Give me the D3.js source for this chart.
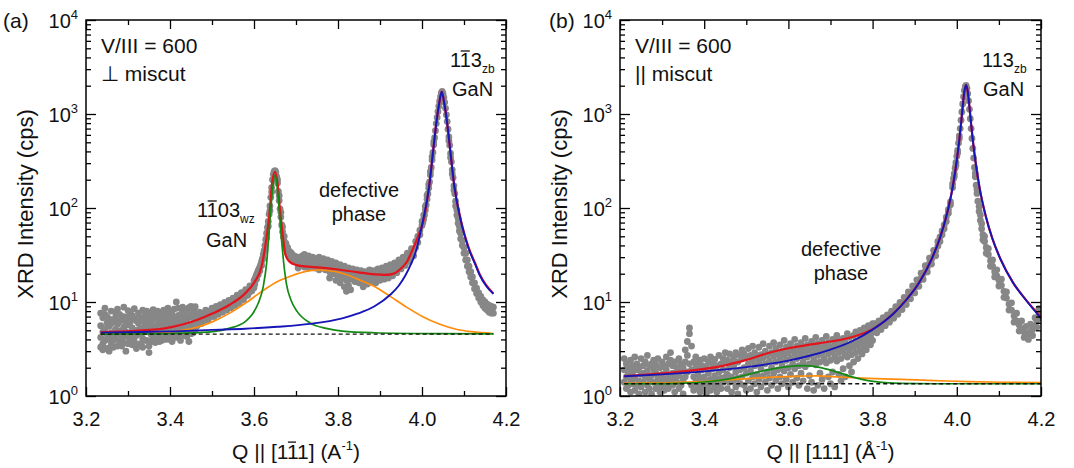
<!DOCTYPE html>
<head>
  <meta charset="utf-8">
  <script src="https://d3js.org/d3.v7.min.js"></script>
  <style>
    body { margin: 0; background: #fff; }
    svg text { font-family: Arial, "Liberation Sans", sans-serif; fill: #111; }
    .frame { fill: none; stroke: #000; stroke-width: 1.5; }
    .axis path { display: none; }
    .axis line { stroke: #000; stroke-width: 1.3; }
    .axis text { font-size: 20px; font-family: Arial, "Liberation Sans", sans-serif; fill: #111; }
    .ylab { font-size: 20px; }
    .title { font-size: 21px; }
    .ytitle { font-size: 22px; }
    .fit { fill: none; }
    .bar { stroke: #111; stroke-width: 1.3; }
  </style>
</head>
<body>
<svg id="chart" width="1074" height="468"></svg>

<script>
// ---- axis ticks ----
var xTickMajor = [3.2, 3.4, 3.6, 3.8, 4.0, 4.2];
var xTickMinor = [3.3, 3.5, 3.7, 3.9, 4.1];
var yDecades = [1, 10, 100, 1000, 10000];
var yExponents = ["0", "1", "2", "3", "4"];

// ---- (a) perpendicular miscut : measured scan [Q, I, I, ...] ----
var leftScan = [
  [3.235,5.6,4.2,3.3,7.6],[3.240,6.8,4.8,3.6,3.1],[3.245,5.2,3.9,7.4,8.6],[3.250,6.0,4.5,3.2,7.0],[3.255,5.5,4.0,6.6,3.0],
  [3.260,4.7,3.5,5.9,8.0],[3.265,6.3,4.4,3.9,3.3],[3.270,5.1,4.1,7.8,6.8],[3.275,5.8,4.6,3.4,8.4],[3.280,4.9,3.8,6.2,7.4],
  [3.285,6.5,5.0,4.2,3.4],[3.290,5.4,3.7,7.0,8.8],[3.295,4.8,4.3,6.0,3.0],[3.300,5.7,3.6,6.9,8.1],[3.305,6.1,4.7,3.9,7.6],
  [3.310,5.3,4.2,7.2,3.5],[3.315,6.6,4.9,3.8,8.5],[3.320,5.0,4.4,6.3,3.2],[3.325,5.9,3.5,7.6,6.9],[3.330,5.2,4.6,6.7,3.6],
  [3.335,6.4,4.1,3.3,8.2],[3.340,5.6,4.8,7.1,3.9],[3.345,6.0,3.9,5.3,8.0],[3.350,5.4,2.9,6.8,3.4],[3.355,6.2,4.5,7.5,3.8],
  [3.360,5.5,4.0,6.6,8.3],[3.365,6.9,4.7,5.2,3.7],[3.370,5.8,4.3,7.3,8.0],[3.375,6.3,5.0,3.8,7.8],[3.380,5.7,4.6,7.0,3.9],
  [3.385,6.6,4.2,5.4,8.2],[3.390,6.1,4.8,7.7,4.0],[3.395,5.5,4.4,6.8,8.6],[3.400,6.4,5.1,4.0,7.6],[3.405,5.9,4.6,7.4,3.8],
  [3.410,6.7,5.2,4.5,8.4],[3.415,6.2,4.9,10.0,4.2],[3.420,5.8,4.3,7.2,8.6],[3.425,6.8,5.4,4.7,3.9],[3.430,6.3,4.8,7.9,8.8],
  [3.435,7.0,5.5,4.4,8.3],[3.440,6.5,5.0,8.1,4.3],[3.445,6.9,5.3,3.8,8.7],[3.450,7.3,5.6,4.6,9.0],[3.455,6.8,5.9,8.3,4.7],
  [3.460,7.5,6.1,5.0,8.9],
  [3.465,7.2,5.6],[3.470,6.5,7.8],[3.475,7.0,5.9],[3.480,7.6,6.3],[3.485,6.8,8.2],[3.490,7.4,6.4],
  [3.495,8.0,6.9],[3.500,7.3,8.6],[3.505,8.3,7.0],[3.510,7.7,9.0],[3.515,8.5,7.4],[3.520,8.1,9.4],
  [3.525,8.9,7.8],[3.530,8.4,9.9],[3.535,9.4,8.2],[3.540,8.8,10.4],[3.545,9.9,8.7],[3.550,9.5,11.0],
  [3.555,10.5,9.2],[3.560,10.0,11.8],[3.565,11.2,9.8],[3.570,10.8,12.6],[3.575,12.0,10.6],[3.580,11.6,13.5],
  [3.585,13.0,11.8],[3.590,12.8,14.8],[3.595,14.5,13.2],[3.600,14.2,16.8],
  [3.602,17.5,15.5],[3.604,18.5],[3.606,19.5,17.5],[3.608,20.5],[3.610,21.5,19.5],[3.612,22.5],
  [3.614,23.5,21.5],[3.616,25],[3.618,27,24.5],[3.620,29],[3.622,32,29],[3.624,35],[3.626,40,36],
  [3.628,46],[3.630,54,48],[3.632,62],[3.634,72,64],[3.636,86],[3.638,105,94],[3.640,130],
  [3.642,165,148],[3.644,200],[3.646,228],[3.648,245],[3.650,250],[3.652,240],[3.654,215],
  [3.656,185,200],[3.658,150],[3.660,120,135],[3.662,98],[3.664,80,90],[3.666,66],[3.668,56,63],
  [3.670,49],[3.672,44,50],[3.674,40],[3.676,37,42],[3.678,35],[3.680,33.5,38],[3.683,32,35],
  [3.686,31,34],[3.689,30,33],[3.692,29,31.5],[3.695,28.5,31],[3.698,28,30.5],[3.700,27.5,30],
  [3.705,30,26,23],[3.710,28,24.5],[3.715,31,26],[3.720,27,23.5,32],[3.725,29,25],[3.730,26.5,31,23],
  [3.735,28,24],[3.740,25.5,30],[3.745,27.5,23],[3.750,29,24.5],[3.755,26,22,30],[3.760,27.5,23.5],
  [3.765,25,29],[3.770,26.5,22],[3.775,24,28],[3.780,25.5,21,18],[3.785,23,27],[3.790,24.5,20],
  [3.795,22,26,17],[3.800,23.5,19],[3.805,21,25,16],[3.810,22.5,18],[3.815,20,24,14.5],
  [3.820,21.5,17,13],[3.825,19.5,23,15],[3.830,21,17.5,13.5],[3.835,19,22.5],[3.840,20.5,16.5],
  [3.845,18.5,22],[3.850,20,16],[3.855,18,21.5],[3.860,19.5,16.5,14.5],[3.865,17.5,21],[3.870,19,15.5],
  [3.875,18,22],[3.880,19.5,16.5],[3.885,17.5,21.5],[3.890,19,16],[3.895,18,22.5],[3.900,20,17],
  [3.905,18.5,23],[3.910,20.5,17.5],[3.915,19,24],[3.920,21,18],[3.925,20,25],[3.930,22.5,19],
  [3.935,21.5,26],[3.940,24,20.5],[3.945,23,28],[3.950,26,22.5],[3.955,25.5,30],[3.960,28,24.5],
  [3.965,28,33],[3.970,31,27],[3.975,32,37],[3.980,36,31],[3.985,38,44],[3.990,43,50],[3.995,52,58],
  [4.000,65,72],[4.002,70],[4.004,76,84],[4.006,84],[4.008,95,104],[4.010,108],[4.012,124,136],
  [4.014,142],[4.016,163,178],[4.018,190],[4.020,225,245],[4.022,270],[4.024,325,350],[4.026,390],
  [4.028,470,505],[4.030,560],[4.032,665],[4.034,790],[4.036,920],[4.038,1060],[4.040,1210],
  [4.042,1370],[4.044,1530],[4.046,1680],[4.048,1740],[4.050,1650],[4.052,1500],[4.054,1330],
  [4.056,1150],[4.058,980],[4.060,830],[4.062,690],[4.064,570,520],[4.066,465],[4.068,380,345],
  [4.070,310],[4.072,255,230],[4.074,210],[4.076,172,155],[4.078,142],[4.080,118,105],[4.083,95,84],
  [4.086,78,69],[4.089,64,57],[4.092,54,47],[4.096,45,40],[4.100,38,33],[4.104,33,28],[4.108,28,24],
  [4.112,24,21],[4.116,21,18.5],[4.120,18.5,16],[4.125,16,13.8],[4.130,14,12.3],[4.135,12.5,11],
  [4.140,11.5,10],[4.145,10.5,9.2],[4.150,10,8.6],[4.155,9.5,8.2],[4.160,9.2,7.8],[4.165,9.0,7.6],
  [4.170,8.8,7.6]
];

var leftSum = [
  [3.235,4.79],[3.310,4.91],[3.387,5.24],[3.425,5.69],[3.464,6.43],[3.502,7.57],[3.541,9.3],
  [3.579,12.35],[3.602,16.5],[3.618,23.8],[3.629,45.6],[3.637,88],[3.643,183],[3.650,243],
  [3.656,183],[3.662,95],[3.670,45.6],[3.675,31.7],[3.687,26.3],[3.710,24.2],[3.748,23.4],
  [3.795,22.3],[3.848,20.7],[3.887,19.7],[3.910,19.4],[3.929,19.8],[3.948,22.3],[3.964,26.8],
  [3.979,37.2],[3.995,56],[4.005,78],[4.017,172],[4.027,422],[4.035,862],[4.041,1301],[4.047,1731],
  [4.053,1301],[4.059,861],[4.067,421],[4.077,171],[4.092,76],[4.102,51],[4.112,37],[4.127,25.5],
  [4.137,19.9],[4.152,15.3],[4.170,12.3]
];
var leftDefect = [
  [3.235,4.57],[3.350,4.64],[3.425,4.95],[3.464,5.38],[3.502,6.18],[3.541,7.57],[3.579,9.68],
  [3.618,12.9],[3.656,16.5],[3.695,19.4],[3.733,21.6],[3.755,21.9],[3.779,21.5],[3.810,20.2],
  [3.848,17.4],[3.887,14.6],[3.925,11.4],[3.964,8.77],[4.002,6.98],[4.041,5.83],[4.079,5.16],
  [4.118,4.83],[4.170,4.62]
];
var leftWz = [
  [3.235,4.56],[3.350,4.58],[3.425,4.65],[3.502,4.85],[3.541,5.24],[3.579,6.18],[3.595,7.3],
  [3.610,9.7],[3.622,14.6],[3.630,25.8],[3.638,74],[3.644,155],[3.650,224],[3.656,155],
  [3.662,74],[3.670,28],[3.677,15.8],[3.688,10.5],[3.703,7.9],[3.733,6.0],[3.772,5.24],
  [3.810,4.91],[3.887,4.71],[4.041,4.6],[4.170,4.57]
];
var leftZb = [
  [3.235,4.72],[3.330,4.8],[3.425,4.9],[3.500,5.05],[3.579,5.2],[3.656,5.45],[3.733,5.85],
  [3.810,6.7],[3.848,7.55],[3.887,9.0],[3.925,12.0],[3.945,15],[3.960,19],[3.975,26],[3.985,34],
  [4.002,72],[4.017,170],[4.027,420],[4.035,860],[4.041,1300],[4.047,1730],[4.053,1300],
  [4.059,860],[4.067,420],[4.077,170],[4.092,75],[4.102,50],[4.112,36],[4.127,25],[4.137,19.5],
  [4.152,15],[4.170,12.2]
];
var leftBackground = [[3.235,4.55],[4.170,4.55]];

// ---- (b) parallel miscut ----
var rightScan = [
  [3.210,1.9,1.4,2.5],[3.215,1.6,1.2,2.2],[3.220,2.0,1.3,1.7],[3.225,1.5,2.4,1.1],[3.230,1.8,1.35,2.1],
  [3.235,1.55,2.6,1.15],[3.240,1.9,1.3,2.2],[3.245,1.45,2.0,1.05],[3.250,1.7,2.5,1.25],[3.255,2.1,1.4,1.75],
  [3.260,1.6,2.3,1.1],[3.265,1.85,1.3,2.7],[3.270,1.5,2.1,1.2],[3.275,2.2,1.65,1.05],[3.280,1.4,1.9,2.4],
  [3.285,1.75,1.2,2.15],[3.290,1.55,2.5,1.3],[3.295,2.0,1.45,1.1],[3.300,1.7,2.3,1.25],[3.305,1.5,2.05,1.15],
  [3.310,1.9,1.35,2.6],[3.315,1.6,2.2,1.2],[3.320,2.4,1.45,2.9],[3.325,1.75,1.3,2.1],[3.330,1.55,2.3,1.1],
  [3.335,2.0,1.4,1.75],[3.340,1.65,2.5,1.2],[3.345,1.85,1.3,2.2],[3.350,1.5,2.0,1.05],[3.355,2.3,1.6,3.1],
  [3.360,1.8,2.7,3.8],[3.365,4.6,5.3,2.2],[3.370,3.4,1.9,1.3],[3.375,1.6,2.3,1.15],[3.380,2.0,1.4,2.6],
  [3.385,1.7,1.25,2.2],[3.390,1.55,2.4,1.1],[3.395,1.9,1.35,2.1],[3.400,1.6,2.5,1.2],[3.405,2.05,1.45,1.05],
  [3.410,1.75,2.3,1.3],[3.415,1.5,2.6,1.15],[3.420,1.95,1.4,2.2],[3.425,1.65,2.45,1.25],[3.430,2.1,1.5,1.1],
  [3.435,1.8,2.7,1.35],[3.440,2.2,1.55,1.2],[3.445,1.9,2.5,1.4],[3.450,2.3,1.6,2.9],
  [3.455,1.7,2.4,1.2],[3.460,2.0,1.4,2.8],[3.465,1.6,2.3,1.1],[3.470,2.1,1.45,2.6],[3.475,1.8,2.9,1.25],
  [3.480,2.3,1.55,1.05],[3.485,1.9,2.7,1.35],[3.490,2.5,1.6,3.1],[3.495,2.0,1.3,2.8],[3.500,2.6,1.75,1.15],
  [3.505,2.2,3.2,1.45],[3.510,1.85,2.7,1.2],[3.515,2.4,1.6,3.4],[3.520,2.1,2.9,1.35],[3.525,2.6,1.7,1.1],
  [3.530,2.3,3.3,1.5],[3.535,1.95,2.75,1.25],[3.540,2.55,1.65,3.6],[3.545,2.2,3.0,1.4],[3.550,2.7,1.8,1.15],
  [3.555,2.35,3.4,1.55],[3.560,2.0,2.9,1.3],[3.565,2.65,1.75,3.7],[3.570,2.3,3.2,1.45],[3.575,2.8,1.9,1.2],
  [3.580,2.45,3.5,1.6],[3.585,2.1,3.0,1.35],[3.590,2.75,1.85,3.9],[3.595,2.4,3.3,1.5],[3.600,2.9,2.0,1.25],
  [3.605,2.55,3.6,1.7],[3.610,2.2,3.1,1.4],[3.615,2.85,1.95,4.0],[3.620,2.5,3.4,1.55],[3.625,3.0,2.1,1.3],
  [3.630,2.65,3.7,1.75],[3.635,2.3,3.2,1.45],[3.640,2.95,2.05,4.1],[3.645,2.6,3.5,1.2],[3.650,3.1,2.2,1.65],
  [3.655,2.75,3.8,1.4],[3.660,2.4,3.3,1.15],[3.665,3.05,2.15,4.2],[3.670,2.7,3.6,1.3],[3.675,3.2,2.3,1.75],
  [3.680,2.85,3.9,1.5],[3.685,2.5,3.4,1.2],[3.690,3.15,2.25,4.3],[3.695,2.8,3.7,1.6],[3.700,3.3,2.4,1.35],
  [3.705,2.95,4.0,1.8],[3.710,2.6,3.5,1.25],[3.715,3.25,2.35,4.4],[3.720,2.9,3.9,1.7],[3.725,3.4,2.5,1.45],
  [3.730,3.05,4.1,1.95],[3.735,2.75,3.7,1.6],[3.740,3.4,2.6,4.6],[3.745,3.1,4.2,2.1],[3.750,3.6,2.75,1.8],
  [3.755,3.3,4.4,2.3],[3.760,3.8,2.9,4.8],[3.765,3.5,4.6,2.5],[3.770,4.0,3.1,5.0],[3.775,3.7,4.8,2.8],
  [3.780,4.2,3.3,5.3],[3.785,4.0,5.1,3.1],[3.790,4.5,3.6,5.6],[3.795,4.3,5.4,3.5],[3.800,4.8,3.9,5.9],
  [3.805,5.0,5.9],[3.810,5.6,4.7],[3.815,5.4,6.3],[3.820,6.0,5.1],[3.825,5.8,6.8],[3.830,6.5,5.6],
  [3.835,6.3,7.3],[3.840,7.0,6.1],[3.845,6.9,8.0],[3.850,7.7,6.7],[3.855,7.6,8.9],[3.860,8.5,7.4],
  [3.865,8.5,9.9],[3.870,9.5,8.3],[3.875,9.6,11.2],[3.880,10.8,9.4],[3.885,11.0,12.8],[3.890,12.4,10.8],
  [3.895,12.8,14.8],[3.900,14.3,12.5],[3.905,15.0,17.2],[3.910,16.8,14.7],[3.915,17.8,20.3],[3.920,19.8,17.4],
  [3.925,21.3,24.3],[3.930,23.6,20.9],[3.935,25.8,29.3],[3.940,28.5,25.3],[3.945,31.6,35.5],[3.950,35,31],
  [3.955,39.5,44],[3.960,44,49],[3.965,52,57],[3.970,60,66],[3.975,72,80],[3.980,88,96],[3.985,108,116],
  [3.990,180,165],[3.992,205],[3.994,232,215],[3.996,265],[3.998,305,285],[4.000,355],[4.002,410,385],
  [4.004,490],[4.006,585,550],[4.008,700],[4.010,860],[4.012,1050],[4.014,1280],[4.016,1530],
  [4.018,1780],[4.020,1960],[4.022,2020],[4.024,1880],[4.026,1650],[4.028,1380],[4.030,1120],
  [4.032,890],[4.034,700],[4.036,550],[4.038,430],[4.040,340],[4.042,270],[4.044,215,235],[4.046,175],
  [4.048,143,158],[4.050,118],[4.053,92,104],[4.056,74,84],[4.059,60,68],[4.062,52,46],[4.066,44,50],
  [4.070,38,33],[4.075,32,37],[4.080,27.5,24],[4.085,24,28],[4.090,21,18.5],[4.095,19,22],[4.100,17,14.8],
  [4.106,15,17.5],[4.112,13,11.2],[4.118,11,12.8],[4.124,9.5,8.2],[4.130,8.2,9.8],[4.136,7.1,6.1],
  [4.142,6.3,7.6],[4.148,5.7,4.9],[4.154,5.2,6.3],[4.160,4.8,4.2],[4.165,4.6,5.5],[4.170,4.6,4.0],
  [4.175,4.8,5.8],[4.180,5.1,4.4],[4.186,5.6,6.8],[4.190,6.3,5.4],[4.195,7.0,8.5],[4.200,8.0,6.8]
];

var rightSum = [
  [3.21,1.63],[3.30,1.74],[3.40,1.94],[3.45,2.12],[3.50,2.42],[3.55,2.85],[3.60,3.22],[3.65,3.52],
  [3.70,3.80],[3.75,4.22],[3.80,5.15],[3.85,7.6],[3.88,10.6],[3.91,16.0],[3.94,28.5],[3.96,48.1],
  [3.975,81],[3.99,165],[4.00,322],[4.006,532],[4.010,786],[4.014,1196],[4.018,1736],[4.022,2041],
  [4.026,1736],[4.030,1196],[4.034,786],[4.038,532],[4.044,322],[4.054,165],[4.069,81],[4.084,48],
  [4.104,28.5],[4.134,16.0],[4.164,10.6],[4.20,6.9]
];
var rightDefect = [
  [3.21,1.36],[3.30,1.38],[3.392,1.42],[3.471,1.50],[3.551,1.58],[3.63,1.63],[3.67,1.635],
  [3.71,1.60],[3.789,1.54],[3.868,1.50],[3.948,1.46],[4.027,1.42],[4.106,1.40],[4.20,1.39]
];
var rightWz = [
  [3.21,1.35],[3.30,1.355],[3.352,1.37],[3.40,1.41],[3.432,1.46],[3.471,1.56],[3.51,1.72],
  [3.551,1.90],[3.598,2.05],[3.63,2.10],[3.65,2.09],[3.67,2.03],[3.71,1.83],[3.749,1.61],
  [3.789,1.46],[3.829,1.39],[3.868,1.36],[3.95,1.35],[4.20,1.35]
];
var rightZb = [
  [3.21,1.62],[3.30,1.70],[3.40,1.83],[3.50,2.03],[3.55,2.18],[3.60,2.38],[3.65,2.68],[3.70,3.12],
  [3.75,3.80],[3.80,5.08],[3.85,7.55],[3.88,10.5],[3.91,15.9],[3.94,28.4],[3.96,48],[3.975,81],
  [3.99,165],[4.00,322],[4.006,532],[4.010,786],[4.014,1196],[4.018,1736],[4.022,2041],[4.026,1736],
  [4.030,1196],[4.034,786],[4.038,532],[4.044,322],[4.054,165],[4.069,81],[4.084,48],[4.104,28.4],
  [4.134,15.9],[4.164,10.5],[4.20,6.7]
];
var rightBackground = [[3.21,1.35],[4.20,1.35]];

var plotTop = 20, plotBottom = 396;
var svg = d3.select("#chart");

// bar over the characters of tspans marked "ol" (Miller index notation)
function overline(textSel) {
  var node = textSel.node(), idx = 0;
  textSel.selectAll("tspan").each(function() {
    var len = this.textContent.length;
    if (d3.select(this).classed("ol")) {
      var a = node.getExtentOfChar(idx), b = node.getExtentOfChar(idx + len - 1);
      var fs = parseFloat(getComputedStyle(this).fontSize);
      var yy = a.y + 0.1 * fs;
      d3.select(node.parentNode).append("line").attr("class", "bar")
        .attr("x1", a.x + 1).attr("x2", b.x + b.width - 1)
        .attr("y1", yy).attr("y2", yy);
    }
    idx += len;
  });
}

function drawPanel(p) {
  var x = d3.scaleLinear().domain([3.2, 4.2]).range([p.left, p.right]);
  var y = d3.scaleLog().domain([1, 1e4]).range([plotBottom, plotTop]);

  var g = svg.append("g");
  g.append("clipPath").attr("id", "clip-" + p.id)
    .append("rect")
      .attr("x", p.left).attr("y", plotTop)
      .attr("width", p.right - p.left).attr("height", plotBottom - plotTop);

  var plot = g.append("g").attr("clip-path", "url(#clip-" + p.id + ")");

  // measured points
  var pts = [];
  p.scan.forEach(function(row) {
    for (var i = 1; i < row.length; i++) pts.push([row[0], row[i]]);
  });
  plot.selectAll("circle").data(pts).enter().append("circle")
    .attr("cx", function(d) { return x(d[0]); })
    .attr("cy", function(d) { return y(d[1]); })
    .attr("r", 3.4)
    .attr("fill", "#878787");

  var line = d3.line()
    .x(function(d) { return x(d[0]); })
    .y(function(d) { return y(d[1]); })
    .curve(d3.curveMonotoneX);

  plot.append("path").datum(p.sum).attr("class", "fit").attr("d", line)
    .attr("stroke", "#e3141b").attr("stroke-width", 2.2);
  plot.append("path").datum(p.defect).attr("class", "fit").attr("d", line)
    .attr("stroke", "#ff8c0a").attr("stroke-width", 1.7);
  plot.append("path").datum(p.wz).attr("class", "fit").attr("d", line)
    .attr("stroke", "#138a13").attr("stroke-width", 1.7);
  plot.append("path").datum(p.zb).attr("class", "fit").attr("d", line)
    .attr("stroke", "#1616b8").attr("stroke-width", 1.9);
  plot.append("path").datum(p.background).attr("class", "fit").attr("d", line)
    .attr("stroke", "#111").attr("stroke-width", 1.4).attr("stroke-dasharray", "4,3");

  // ticks on all four sides, pointing in
  var minorY = [];
  [1, 10, 100, 1000].forEach(function(dec) {
    for (var k = 2; k <= 9; k++) minorY.push(dec * k);
  });

  g.append("g").attr("class", "axis")
    .attr("transform", "translate(0," + plotBottom + ")")
    .call(d3.axisBottom(x).tickValues(xTickMajor).tickSize(-9).tickPadding(16)
      .tickFormat(d3.format(".1f")));
  g.append("g").attr("class", "axis")
    .attr("transform", "translate(0," + plotBottom + ")")
    .call(d3.axisBottom(x).tickValues(xTickMinor).tickSize(-5).tickFormat(""));
  g.append("g").attr("class", "axis")
    .attr("transform", "translate(0," + plotTop + ")")
    .call(d3.axisTop(x).tickValues(xTickMajor).tickSize(-9).tickFormat(""));
  g.append("g").attr("class", "axis")
    .attr("transform", "translate(0," + plotTop + ")")
    .call(d3.axisTop(x).tickValues(xTickMinor).tickSize(-5).tickFormat(""));

  g.append("g").attr("class", "axis")
    .attr("transform", "translate(" + p.left + ",0)")
    .call(d3.axisLeft(y).tickValues(yDecades).tickSize(-10).tickFormat(""));
  g.append("g").attr("class", "axis")
    .attr("transform", "translate(" + p.left + ",0)")
    .call(d3.axisLeft(y).tickValues(minorY).tickSize(-5).tickFormat(""));
  g.append("g").attr("class", "axis")
    .attr("transform", "translate(" + p.right + ",0)")
    .call(d3.axisRight(y).tickValues(yDecades).tickSize(-10).tickFormat(""));
  g.append("g").attr("class", "axis")
    .attr("transform", "translate(" + p.right + ",0)")
    .call(d3.axisRight(y).tickValues(minorY).tickSize(-5).tickFormat(""));

  // y tick labels 10^n
  yDecades.forEach(function(v, i) {
    var t = g.append("text").attr("class", "ylab")
      .attr("x", p.left - 8).attr("y", y(v) + 8)
      .attr("text-anchor", "end");
    t.append("tspan").text("10");
    t.append("tspan").attr("dy", -9).style("font-size", "13px").text(yExponents[i]);
  });

  g.append("rect").attr("class", "frame")
    .attr("x", p.left).attr("y", plotTop)
    .attr("width", p.right - p.left).attr("height", plotBottom - plotTop);

  // axis titles
  g.append("text").attr("class", "ytitle")
    .attr("transform", "translate(" + (p.left - 53) + "," + 204 + ") rotate(-90)")
    .attr("text-anchor", "middle")
    .text("XRD Intensity (cps)");

  var xt = g.append("text").attr("class", "title")
    .attr("x", (p.left + p.right) / 2).attr("y", 459)
    .attr("text-anchor", "middle");
  p.xTitle(xt);
  overline(xt);

  g.append("text").attr("class", "title").attr("x", p.left - 83 + p.tagShift).attr("y", 28).text(p.tag);

  return { g: g, x: x, y: y };
}

function addLines(g, x0, lines, size, anchor) {
  lines.forEach(function(l) {
    var t = g.append("text").attr("x", x0).attr("y", l.y)
      .attr("text-anchor", anchor || "start").style("font-size", size + "px");
    l.parts.forEach(function(pt) {
      var s = t.append("tspan").text(pt.t);
      if (pt.ol) s.attr("class", "ol");
      if (pt.sub) s.attr("dy", 6).style("font-size", "12px");
    });
    overline(t);
  });
}

// (a)
var a = drawPanel({
  id: "a", left: 86, right: 506, tag: "(a)", tagShift: 0,
  scan: leftScan, sum: leftSum, defect: leftDefect, wz: leftWz, zb: leftZb,
  background: leftBackground,
  xTitle: function(t) {
    t.append("tspan").text("Q || [1");
    t.append("tspan").attr("class", "ol").text("1");
    t.append("tspan").text("1] (A");
    t.append("tspan").attr("dy", -9).style("font-size", "13px").text("-1");
    t.append("tspan").attr("dy", 9).text(")");
  }
});
addLines(a.g, 101, [
  { y: 53, parts: [{ t: "V/III = 600" }] },
  { y: 81, parts: [{ t: "\u22a5 miscut" }] }
], 21);
addLines(a.g, 450, [
  { y: 67, parts: [{ t: "1" }, { t: "1", ol: true }, { t: "3" }, { t: "zb", sub: true }] }
], 20);
addLines(a.g, 452, [{ y: 96, parts: [{ t: "GaN" }] }], 20);
addLines(a.g, 197, [
  { y: 217, parts: [{ t: "1" }, { t: "1", ol: true }, { t: "03" }, { t: "wz", sub: true }] }
], 20);
addLines(a.g, 206, [{ y: 247, parts: [{ t: "GaN" }] }], 20);
addLines(a.g, 359, [
  { y: 197, parts: [{ t: "defective" }] },
  { y: 221, parts: [{ t: "phase" }] }
], 20, "middle");

// (b)
var b = drawPanel({
  id: "b", left: 620, right: 1041, tag: "(b)", tagShift: 12,
  scan: rightScan, sum: rightSum, defect: rightDefect, wz: rightWz, zb: rightZb,
  background: rightBackground,
  xTitle: function(t) {
    t.append("tspan").text("Q || [111] (\u00c5");
    t.append("tspan").attr("dy", -9).style("font-size", "13px").text("-1");
    t.append("tspan").attr("dy", 9).text(")");
  }
});
addLines(b.g, 635, [
  { y: 53, parts: [{ t: "V/III = 600" }] },
  { y: 81, parts: [{ t: "|| miscut" }] }
], 21);
addLines(b.g, 982, [
  { y: 67, parts: [{ t: "113" }, { t: "zb", sub: true }] }
], 20);
addLines(b.g, 983, [{ y: 96, parts: [{ t: "GaN" }] }], 20);
addLines(b.g, 841, [
  { y: 256, parts: [{ t: "defective" }] },
  { y: 280, parts: [{ t: "phase" }] }
], 20, "middle");
</script>
</body>
